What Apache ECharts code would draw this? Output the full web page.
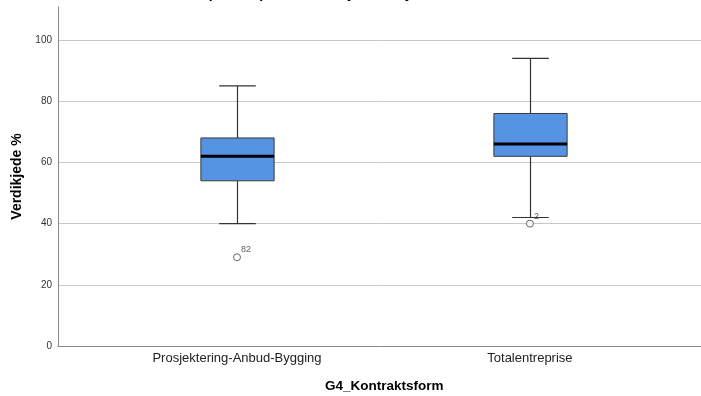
<!DOCTYPE html>
<html><head><meta charset="utf-8">
<script src="https://cdn.jsdelivr.net/npm/echarts@6/dist/echarts.min.js"></script>
<style>html,body{margin:0;padding:0;background:#fff}#c{width:701px;height:396px}</style>
</head><body><div id="c"></div>
<script>
const categories = ['Prosjektering-Anbud-Bygging', 'Totalentreprise'];
const lowWhisker = [40, 42];
const q1 = [54, 62];
const median = [62, 66];
const q3 = [68, 76];
const highWhisker = [85, 94];
const outlierValues = [29, 40];
const outlierLabels = ['82', '2'];
const yTicks = [0, 20, 40, 60, 80, 100];

const chart = echarts.init(document.getElementById('c'), null, {renderer: 'canvas'});
const boxData = categories.map((c, i) => [i + 1, lowWhisker[i], q1[i], median[i], q3[i], highWhisker[i]]);
const outData = categories.map((c, i) => [i + 1, outlierValues[i], outlierLabels[i]]);
const FONT = '"Liberation Sans", Arial, sans-serif';

chart.setOption({
  animation: false,
  grid: {left: 58, right: 0, top: 7, bottom: 50},
  graphic: [
    {type: 'text', left: 183, top: -13, style: {text: 'Simple Boxplot of Verdikjede % by G4_Kontraktsform', font: 'bold 14px ' + FONT, fill: '#000'}},
    {type: 'text', left: 325, top: 379, style: {text: 'G4_Kontraktsform', font: 'bold 13.5px ' + FONT, fill: '#000'}}
  ],
  xAxis: {
    type: 'value', min: 0.389, max: 2.584,
    axisLine: {show: true, lineStyle: {color: '#888', width: 1}},
    axisTick: {show: false},
    splitLine: {show: false},
    axisLabel: {customValues: [1, 2], formatter: v => categories[Math.round(v) - 1], color: '#222', fontSize: 13, fontFamily: FONT, margin: 6}
  },
  yAxis: {
    type: 'value', min: 0, max: 110.8,
    name: 'Verdikjede %', nameLocation: 'middle', nameGap: 31, nameRotate: 90,
    nameTextStyle: {fontWeight: 'bold', fontSize: 14, color: '#000', fontFamily: FONT},
    axisLine: {show: true, lineStyle: {color: '#888', width: 1}},
    axisTick: {show: false},
    axisLabel: {customValues: yTicks, color: '#333', fontSize: 10, fontFamily: FONT, margin: 6},
    splitLine: {show: true, lineStyle: {color: '#c8c8c8', width: 1}, showMaxLine: false, showMinLine: false}
  },
  series: [
    {
      type: 'custom',
      data: boxData,
      encode: {x: 0, y: [1, 2, 3, 4, 5]},
      renderItem: function (params, api) {
        const x = api.value(0);
        const pLow = api.coord([x, api.value(1)]);
        const pQ1 = api.coord([x, api.value(2)]);
        const pMed = api.coord([x, api.value(3)]);
        const pQ3 = api.coord([x, api.value(4)]);
        const pHigh = api.coord([x, api.value(5)]);
        const bw = api.size([0.25, 0])[0];
        const cw = api.size([0.125, 0])[0];
        const cx = Math.round(pMed[0]) + 0.5;
        const stroke = {stroke: '#333', lineWidth: 1.2};
        return {
          type: 'group',
          children: [
            {type: 'line', shape: {x1: cx, y1: pHigh[1], x2: cx, y2: pQ3[1]}, style: stroke},
            {type: 'line', shape: {x1: cx, y1: pQ1[1], x2: cx, y2: pLow[1]}, style: stroke},
            {type: 'line', shape: {x1: cx - cw / 2, y1: pHigh[1], x2: cx + cw / 2, y2: pHigh[1]}, style: stroke},
            {type: 'line', shape: {x1: cx - cw / 2, y1: pLow[1], x2: cx + cw / 2, y2: pLow[1]}, style: stroke},
            {type: 'rect', shape: {x: cx - bw / 2, y: pQ3[1], width: bw, height: pQ1[1] - pQ3[1]}, style: {fill: '#5593e3', stroke: '#3a3a3a', lineWidth: 1}},
            {type: 'line', shape: {x1: cx - bw / 2, y1: pMed[1], x2: cx + bw / 2, y2: pMed[1]}, style: {stroke: '#000', lineWidth: 3}}
          ]
        };
      }
    },
    {
      type: 'scatter',
      data: outData,
      symbol: 'circle', symbolSize: 7,
      itemStyle: {color: '#fff', borderColor: '#444', borderWidth: 1},
      label: {show: true, formatter: p => p.data[2], position: [8, -8], fontSize: 9, color: '#333', fontFamily: FONT}
    }
  ]
});
</script></body></html>
